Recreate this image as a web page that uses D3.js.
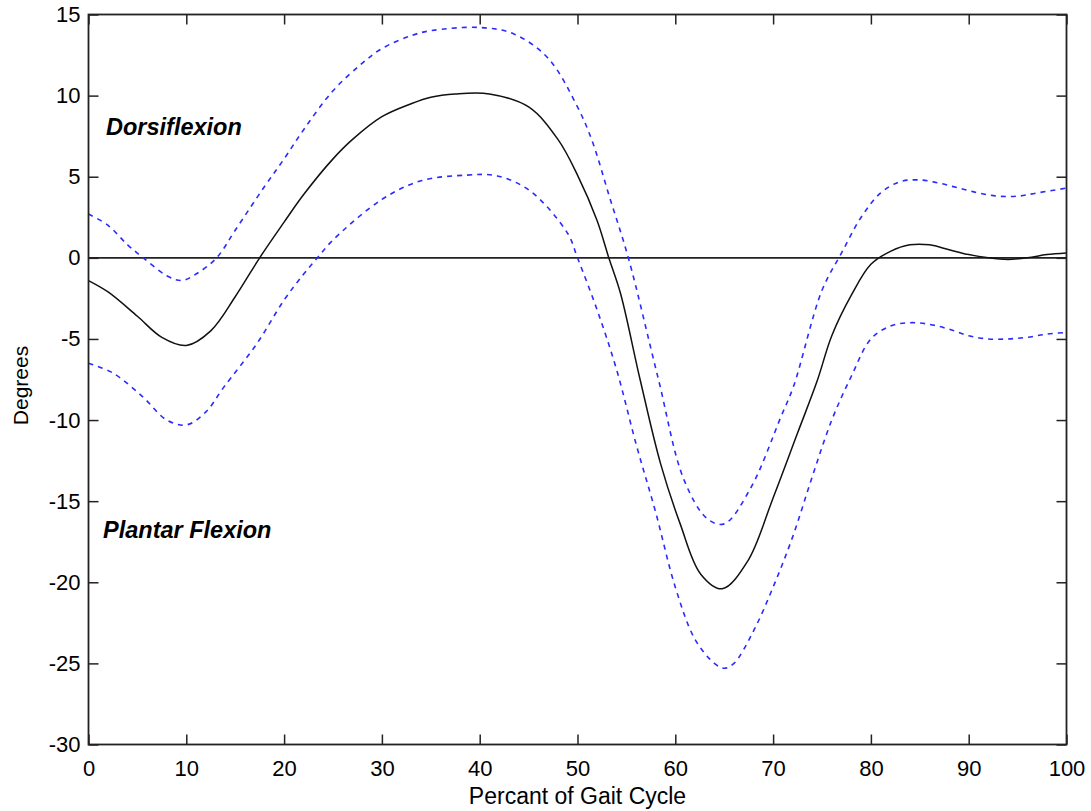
<!DOCTYPE html>
<html>
<head>
<meta charset="utf-8">
<script src="https://cdn.jsdelivr.net/npm/d3@7.9.0/dist/d3.min.js"></script>
<style>
  html, body { margin: 0; padding: 0; background: #fff; }
  svg text { font-family: Arial, "Liberation Sans", sans-serif; fill: #000; }
</style>
</head>
<body>
<svg id="chart" width="1091" height="811"></svg>
<script>
// gait cycle percentage and ankle angle (degrees)
const meanX = [0, 2, 5, 7.5, 10, 12.5, 15, 17.5, 20, 22, 25, 27, 30, 33, 35, 37.5, 41, 45, 48, 50, 52, 53.2, 54.4, 56.4, 58.5, 60.5, 62.6, 64.8, 67.4, 70, 72.5, 74.5, 76, 78, 80, 82, 84, 86, 88, 90, 92, 94, 96, 98, 100];
const meanY = [-1.4, -2.1, -3.6, -4.9, -5.4, -4.5, -2.4, 0.0, 2.2, 3.9, 6.1, 7.3, 8.7, 9.5, 9.9, 10.1, 10.1, 9.3, 7.3, 5.1, 2.3, 0.0, -2.2, -7.5, -12.7, -16.4, -19.5, -20.4, -18.7, -14.8, -10.8, -7.6, -4.8, -2.3, -0.4, 0.4, 0.8, 0.8, 0.5, 0.2, 0.0, -0.1, 0.0, 0.2, 0.3];

const upperX = [0, 2, 4, 5.6, 8, 9.5, 11, 13.1, 15, 18, 20, 22, 25, 28, 30, 33, 35, 40, 43.5, 47, 50, 51.5, 53.3, 55.2, 58.2, 60.9, 63.3, 65, 67.7, 70.8, 72.1, 75, 77, 79, 81, 83, 85, 87, 89, 91, 93, 95, 97, 100];
const upperY = [2.7, 2.0, 0.8, 0.0, -1.1, -1.4, -1.0, 0.0, 1.7, 4.4, 6.1, 7.9, 10.3, 12.0, 12.9, 13.7, 14.0, 14.2, 13.8, 12.3, 9.3, 7.2, 3.7, 0.0, -7.3, -13.7, -16.1, -16.4, -14.2, -9.8, -7.9, -2.0, 0.3, 2.5, 4.0, 4.7, 4.8, 4.6, 4.3, 4.0, 3.8, 3.8, 4.0, 4.3];

const lowerX = [0, 2.5, 5.6, 8, 10, 12, 13.8, 17.2, 20, 22, 23.4, 25, 30, 34, 38.7, 41.8, 45.2, 49, 50, 52, 54, 56, 58, 60, 62, 64, 65, 66, 68, 70, 72, 74, 76, 78, 80, 82, 84, 86, 88, 90, 92, 94, 96, 98, 100];
const lowerY = [-6.5, -7.1, -8.6, -10.0, -10.3, -9.5, -8.0, -5.3, -2.6, -1.0, 0.0, 1.1, 3.6, 4.75, 5.1, 5.05, 4.1, 1.5, 0.0, -3.2, -6.9, -11.5, -15.7, -20.3, -23.5, -25.0, -25.3, -25.0, -23.0, -20.3, -17.2, -13.5, -10.0, -7.3, -5.0, -4.2, -4.0, -4.1, -4.4, -4.8, -5.0, -5.0, -4.9, -4.7, -4.6];

const xTicks = [0, 10, 20, 30, 40, 50, 60, 70, 80, 90, 100];
const yTicks = [-30, -25, -20, -15, -10, -5, 0, 5, 10, 15];

const svg = d3.select('#chart');
const plotL = 88.5, plotR = 1066.5, plotT = 14.5, plotB = 744.5;

const x = d3.scaleLinear().domain([0, 100]).range([plotL, plotR]);
const y = d3.scaleLinear().domain([-30, 15]).range([plotB, plotT]);

const line = d3.line()
  .x(d => x(d[0]))
  .y(d => y(d[1]))
  .curve(d3.curveCatmullRom.alpha(0.5));

const zip = (a, b) => a.map((v, i) => [v, b[i]]);

// zero line
svg.append('line')
  .attr('x1', x(0)).attr('x2', x(100))
  .attr('y1', y(0)).attr('y2', y(0))
  .attr('stroke', '#222').attr('stroke-width', 1.6);

svg.append('path')
  .datum(zip(upperX, upperY))
  .attr('d', line)
  .attr('fill', 'none').attr('stroke', '#2b2bff')
  .attr('stroke-width', 1.6).attr('stroke-dasharray', '5,5');

svg.append('path')
  .datum(zip(lowerX, lowerY))
  .attr('d', line)
  .attr('fill', 'none').attr('stroke', '#2b2bff')
  .attr('stroke-width', 1.6).attr('stroke-dasharray', '5,5');

svg.append('path')
  .datum(zip(meanX, meanY))
  .attr('d', line)
  .attr('fill', 'none').attr('stroke', '#111')
  .attr('stroke-width', 1.5);

// axes: ticks inward on all four sides
const tickLen = 10;
const fmt = d => String(d);
svg.append('g').attr('transform', `translate(0,${plotB})`)
  .call(d3.axisBottom(x).tickValues(xTicks).tickSizeInner(-tickLen).tickSizeOuter(0).tickPadding(16).tickFormat(fmt))
  .call(g => g.select('.domain').remove());
svg.append('g').attr('transform', `translate(0,${plotT})`)
  .call(d3.axisTop(x).tickValues(xTicks).tickSizeInner(-tickLen).tickSizeOuter(0).tickFormat(''))
  .call(g => g.select('.domain').remove());
svg.append('g').attr('transform', `translate(${plotL},0)`)
  .call(d3.axisLeft(y).tickValues(yTicks).tickSizeInner(-tickLen).tickSizeOuter(0).tickPadding(8).tickFormat(fmt))
  .call(g => g.select('.domain').remove());
svg.append('g').attr('transform', `translate(${plotR},0)`)
  .call(d3.axisRight(y).tickValues(yTicks).tickSizeInner(-tickLen).tickSizeOuter(0).tickFormat(''))
  .call(g => g.select('.domain').remove());

svg.selectAll('.tick line').attr('stroke', '#222').attr('stroke-width', 1.5);
svg.selectAll('.tick text').attr('font-size', 22).attr('font-family', 'Arial, "Liberation Sans", sans-serif').attr('fill', '#000');

svg.append('rect')
  .attr('x', plotL).attr('y', plotT)
  .attr('width', plotR - plotL).attr('height', plotB - plotT)
  .attr('fill', 'none').attr('stroke', '#222').attr('stroke-width', 1.8);

// labels
svg.append('text')
  .attr('x', (plotL + plotR) / 2).attr('y', 804)
  .attr('text-anchor', 'middle').attr('font-size', 23)
  .text('Percant of Gait Cycle');

svg.append('text')
  .attr('transform', `translate(28,${(plotT + plotB) / 2 + 6}) rotate(-90)`)
  .attr('text-anchor', 'middle').attr('font-size', 21)
  .text('Degrees');

svg.append('text')
  .attr('x', 106).attr('y', 135)
  .attr('font-size', 23.5).attr('font-weight', 'bold').attr('font-style', 'italic')
  .text('Dorsiflexion');

svg.append('text')
  .attr('x', 103).attr('y', 538)
  .attr('font-size', 23.5).attr('font-weight', 'bold').attr('font-style', 'italic')
  .text('Plantar Flexion');
</script>
</body>
</html>
